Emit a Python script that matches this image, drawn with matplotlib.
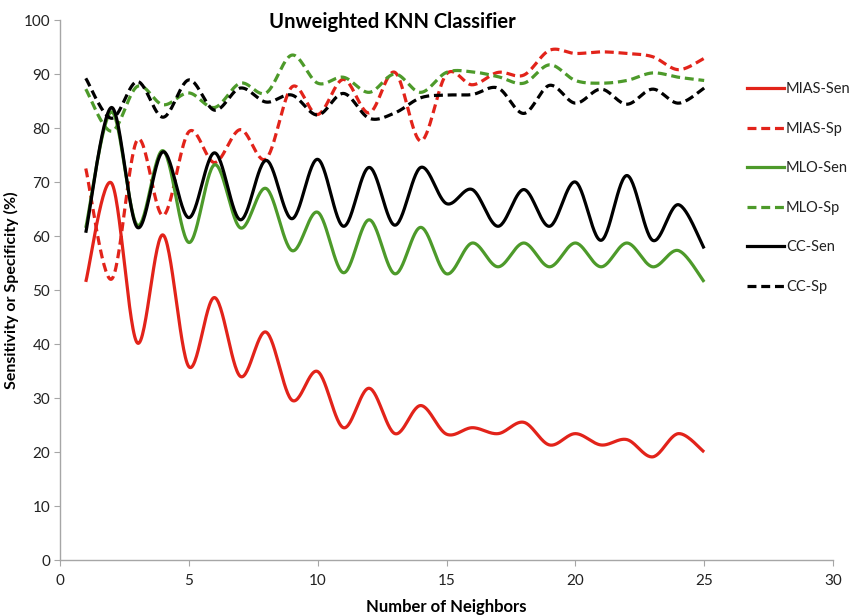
import numpy as np
import matplotlib
matplotlib.use("Agg")
import matplotlib.pyplot as plt
from matplotlib.lines import Line2D

plt.rcParams['font.family'] = ['Lato', 'DejaVu Sans']

neighbors = list(range(1, 26))

MIAS_Sen = [51.5, 69.8, 40.2, 60.2, 35.8, 48.6, 34.0, 42.2, 29.6, 34.9, 24.5, 31.8, 23.4,
            28.6, 23.3, 24.5, 23.4, 25.5, 21.3, 23.4, 21.3, 22.3, 19.1, 23.4, 20.0]
MIAS_Sp = [72.5, 52.0, 77.8, 63.8, 79.3, 73.6, 79.7, 74.3, 87.6, 82.5, 89.0, 82.8, 90.3,
           77.6, 90.0, 88.0, 90.3, 89.8, 94.4, 93.8, 94.1, 93.8, 93.2, 90.8, 92.9]
MLO_Sen = [61.5, 83.0, 62.0, 75.8, 58.8, 73.2, 61.5, 68.8, 57.3, 64.4, 53.2, 63.0, 53.0,
           61.6, 53.0, 58.7, 54.3, 58.7, 54.3, 58.7, 54.3, 58.7, 54.3, 57.3, 51.5]
MLO_Sp = [87.2, 79.4, 87.7, 84.3, 86.5, 83.8, 88.3, 86.5, 93.5, 88.3, 89.4, 86.6, 90.0,
          86.6, 90.3, 90.4, 89.5, 88.3, 91.7, 88.8, 88.3, 88.8, 90.2, 89.4, 88.8]
CC_Sen = [60.6, 83.8, 61.6, 75.6, 63.4, 75.4, 63.0, 74.0, 63.2, 74.2, 61.8, 72.7, 62.0,
          72.7, 66.0, 68.6, 61.8, 68.6, 61.8, 70.0, 59.2, 71.2, 59.2, 65.8, 57.7]
CC_Sp = [89.2, 81.8, 88.6, 82.0, 88.9, 83.3, 87.4, 84.8, 86.1, 82.4, 86.4, 81.8, 82.8,
         85.6, 86.1, 86.2, 87.4, 82.7, 87.9, 84.6, 87.2, 84.4, 87.2, 84.6, 87.4]

labels = ["MIAS-Sen", "MIAS-Sp", "MLO-Sen", "MLO-Sp", "CC-Sen", "CC-Sp"]
series = [MIAS_Sen, MIAS_Sp, MLO_Sen, MLO_Sp, CC_Sen, CC_Sp]

RED = "#e2231a"
GREEN = "#4d9a2a"
BLACK = "#000000"
colors = [RED, RED, GREEN, GREEN, BLACK, BLACK]
dash = (0, (2.8, 1.5))
styles = ["-", dash, "-", dash, "-", dash]


def smooth(x, y, n=30):
    """Excel-like smoothing (Catmull-Rom / cubic Bezier)."""
    x = np.asarray(x, float)
    y = np.asarray(y, float)
    P = np.column_stack([x, y])
    Pext = np.vstack([P[0], P, P[-1]])
    out = []
    t = np.linspace(0, 1, n, endpoint=False)[:, None]
    for i in range(len(P) - 1):
        p0, p1, p2, p3 = Pext[i], Pext[i + 1], Pext[i + 2], Pext[i + 3]
        c1 = p1 + (p2 - p0) / 6.0
        c2 = p2 - (p3 - p1) / 6.0
        seg = ((1 - t) ** 3) * p1 + 3 * ((1 - t) ** 2) * t * c1 + 3 * (1 - t) * t ** 2 * c2 + t ** 3 * p2
        out.append(seg)
    out.append(P[-1][None, :])
    out = np.vstack(out)
    return out[:, 0], out[:, 1]


fig = plt.figure(figsize=(8.57, 6.16), dpi=100)
ax = fig.add_axes([60 / 857, 56 / 616, (833 - 60) / 857, (560 - 20) / 616])

for vals, c, ls, lab in zip(series, colors, styles, labels):
    sx, sy = smooth(neighbors, vals)
    ax.plot(sx, sy, color=c, linestyle=ls, linewidth=2.3, label=lab,
            solid_capstyle='butt', dash_capstyle='butt')

ax.set_xlim(0, 30)
ax.set_ylim(0, 100)
ax.set_xticks(range(0, 31, 5))
ax.set_yticks(range(0, 101, 10))
for s in ['top', 'right']:
    ax.spines[s].set_visible(False)
for s in ['left', 'bottom']:
    ax.spines[s].set_color('#a6a6a6')
    ax.spines[s].set_linewidth(1.0)
ax.tick_params(axis='both', direction='out', length=4, color='#a6a6a6',
               labelsize=11, labelcolor='#222222', pad=3)
ax.tick_params(axis='x', pad=6)

ax.set_xlabel("Number of Neighbors", fontsize=12, fontweight='bold', labelpad=8)
ax.set_ylabel("Sensitivity or Specificity (%)", fontsize=11.5, fontweight='bold', labelpad=3)
fig.text(392 / 857, 1 - 22 / 616, "Unweighted KNN Classifier", fontsize=14.5,
         fontweight='bold', ha='center', va='center')

handles = [Line2D([0], [0], color=c, linestyle=ls, linewidth=2.3) for c, ls in zip(colors, styles)]
leg = fig.legend(handles, labels, loc='upper left', bbox_to_anchor=(734 / 857, 1 - 69 / 616),
                 frameon=False, fontsize=10.5, handlelength=2.5, handletextpad=0.15,
                 labelspacing=1.75, borderpad=0.4)
for t in leg.get_texts():
    t.set_color('#222222')

fig.savefig("out.png", dpi=100)
